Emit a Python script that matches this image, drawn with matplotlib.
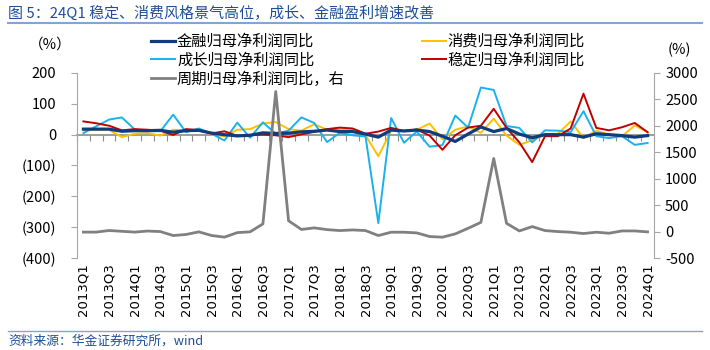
import matplotlib
matplotlib.use("Agg")
import matplotlib.pyplot as plt
import numpy as np

plt.rcParams['font.family'] = ['Noto Sans CJK SC', 'DejaVu Sans']

quarters = [f"{y}Q{q}" for y in range(2013, 2025) for q in range(1, 5)][:45]

finance = [18, 18, 18, 11, 13, 13, 14, 8, 13, 14, 5, 0, -4, -2, 6, 4, 5, 9, 11, 15,
           10, 10, 2, -8, 15, 12, 15, 10, -5, -22, 2, 25, 10, 20, 2, -10, 0, 0, 0, -8,
           3, 0, -3, -8, -3]
consume = [14, 16, 16, -8, 3, 5, -3, 16, 14, 15, 1, -6, 16, 18, 36, 41, 18, 13, 34, 16,
           18, 18, -2, -70, 12, 12, 16, 36, -15, 16, 27, 6, 52, -3, -33, -18, 0, 3, 43, -11,
           13, 0, -5, 30, 8]
growth = [5, 27, 49, 56, 17, 12, 11, 65, 8, 20, 3, -19, 39, -10, 40, 3, 13, 56, 38, -24,
          6, -2, -6, -287, 54, -26, 10, -39, -34, 62, 23, 153, 145, 28, 22, -25, 14, 13, 8, 76,
          -5, -11, -5, -33, -27]
stable = [43, 37, 29, 14, 18, 16, 13, -1, 18, 15, 4, 11, -4, -2, 0, -2, -8, 1, 9, 18,
          23, 20, 3, 10, 22, 12, 17, -3, -49, -2, 23, 29, 84, 22, -25, -89, -5, -5, 20, 133,
          22, 14, 24, 38, 8]
cyclical = [-10, -10, 20, 5, -10, 10, 0, -75, -55, -5, -75, -105, -20, -5, 145, 2650, 205, 40, 70, 37,
            19, 31, 19, -75, -12, -12, -25, -94, -106, -44, 62, 175, 1383, 156, 12, 94, 19, 0, -12, -37,
            -12, -31, 12, 12, -6]

left_ticks = [200, 100, 0, -100, -200, -300, -400]
right_ticks = [3000, 2500, 2000, 1500, 1000, 500, 0, -500]

W, H = 710, 350
fig = plt.figure(figsize=(W / 100, H / 100), dpi=100)
ax = fig.add_axes([77 / W, 1 - 258 / H, (654 - 77) / W, (258 - 73) / H])
ax2 = ax.twinx()

x = np.arange(len(quarters))
c_fin, c_con, c_gro, c_sta, c_cyc = '#0F3C7D', '#FFC000', '#1BB1EC', '#C00000', '#808080'
l1, = ax.plot(x, finance, color=c_fin, lw=2.3, label='金融归母净利润同比', zorder=5)
l2, = ax.plot(x, consume, color=c_con, lw=1.4, label='消费归母净利润同比', zorder=3)
l3, = ax.plot(x, growth, color=c_gro, lw=1.4, label='成长归母净利润同比', zorder=3)
l4, = ax.plot(x, stable, color=c_sta, lw=1.4, label='稳定归母净利润同比', zorder=4)
l5, = ax2.plot(x, cyclical, color=c_cyc, lw=2.0, label='周期归母净利润同比，右')

ax.set_xlim(-0.5, len(quarters) - 0.5)
ax.set_ylim(-400, 200)
ax2.set_ylim(-500, 3000)

ax.set_yticks(left_ticks)
ax.set_yticklabels([f"({abs(v)})" if v < 0 else str(v) for v in left_ticks])
ax2.set_yticks(right_ticks)
ax2.set_yticklabels([str(v) for v in right_ticks])

spine_c = '#A6A6A6'
for a in (ax, ax2):
    for s in ('top', 'bottom'):
        a.spines[s].set_visible(False)
ax.spines['right'].set_visible(False)
ax2.spines['left'].set_visible(False)
ax.spines['left'].set_color(spine_c)
ax2.spines['right'].set_color(spine_c)
ax.tick_params(axis='y', length=4, color=spine_c, labelsize=10.5, pad=11)
ax2.tick_params(axis='y', length=4, color=spine_c, labelsize=10.5, pad=4)

ax.set_xticks(x[::2])
ax.set_xticklabels(quarters[::2], rotation=90, fontsize=9.5, family='DejaVu Sans')
ax.tick_params(axis='x', length=0, pad=4)

# zero-line category axis with boundary ticks
sec = ax.secondary_xaxis(0, transform=ax.transData)
sec.set_xticks(np.arange(-0.5, len(quarters), 1))
sec.tick_params(axis='x', length=4, width=0.8, color='#8C8C8C', labelbottom=False, direction='out')
sec.spines['bottom'].set_color('#8C8C8C')
sec.spines['bottom'].set_linewidth(1.2)

fig.text(50 / W, 1 - 45 / H, '（%）', ha='center', va='center', fontsize=10.5)
fig.text(679 / W, 1 - 50 / H, '(%)', ha='center', va='center', fontsize=10.5)

fig.legend(handles=[l1, l3, l5, l2, l4], ncol=2, loc='upper left',
           bbox_to_anchor=(151 / W, 1 - 33 / H), frameon=False, fontsize=11,
           handlelength=1.55, handletextpad=0.15, labelspacing=0.12, columnspacing=5.05,
           borderpad=0, borderaxespad=0)

fig.text(8 / W, 1 - 13 / H, '图 5：24Q1 稳定、消费风格景气高位，成长、金融盈利增速改善',
         ha='left', va='center', fontsize=10.8, color='#1F4E96')
fig.add_artist(plt.Line2D([8 / W, 702 / W], [1 - 23 / H, 1 - 23 / H], color='#7EA6D6', lw=1.5))
fig.add_artist(plt.Line2D([8 / W, 702 / W], [1 - 331 / H, 1 - 331 / H], color='#7EA6D6', lw=1.0))
fig.text(8 / W, 1 - 341 / H, '资料来源：华金证券研究所，wind', ha='left', va='center',
         fontsize=9.2, color='#1F4E96', style='italic')

fig.savefig('out.png', dpi=100)
